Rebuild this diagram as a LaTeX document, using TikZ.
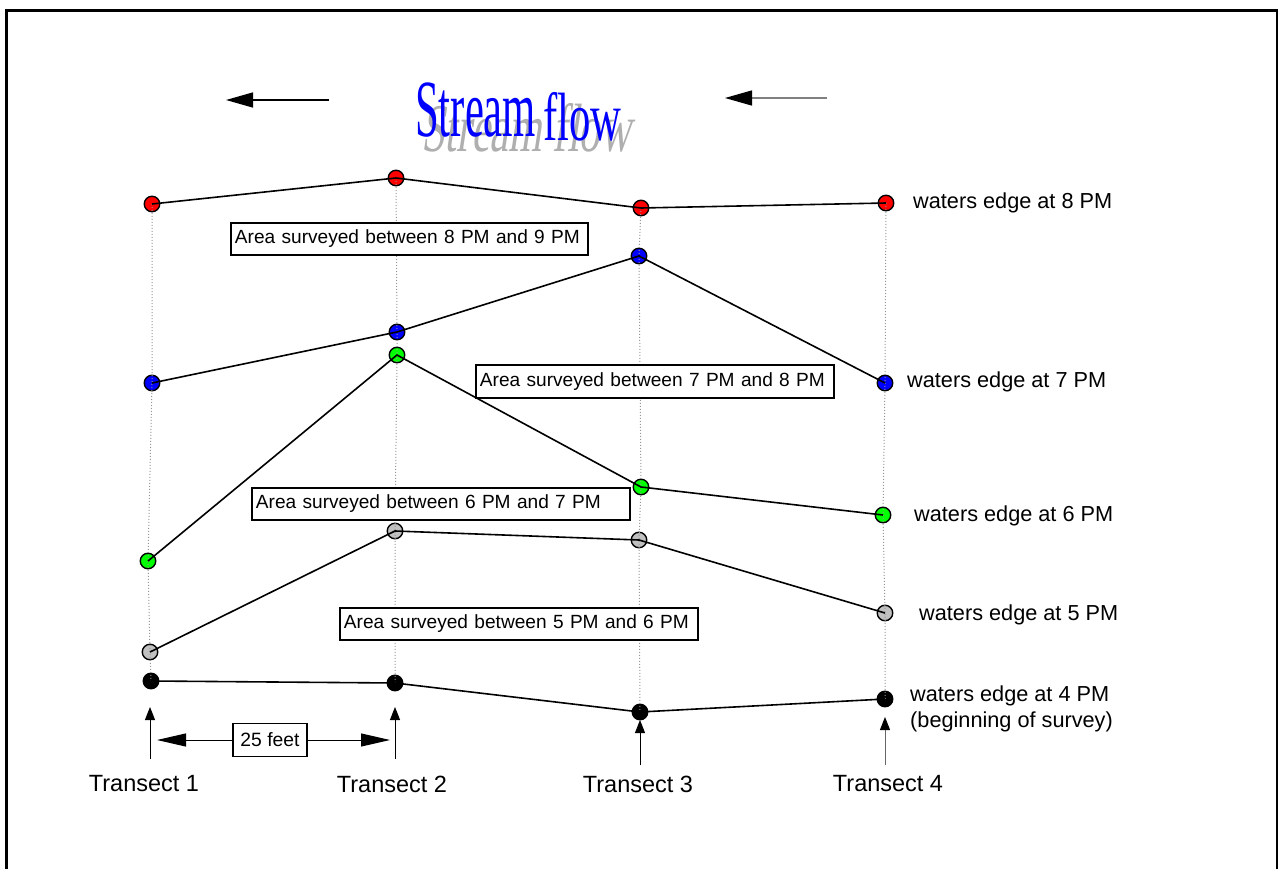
\documentclass[tikz,border=0pt]{standalone}
\usepackage{fontspec}
\setmainfont{Liberation Sans}
\newfontfamily\titlefont{Liberation Serif}
\usetikzlibrary{arrows.meta}
\definecolor{dotred}{RGB}{255,0,0}
\definecolor{dotblue}{RGB}{0,0,255}
\definecolor{dotgreen}{RGB}{0,255,0}
\definecolor{dotgray}{RGB}{192,192,192}
\definecolor{guidegray}{RGB}{150,150,150}
\definecolor{shadowgray}{RGB}{175,175,175}
\definecolor{titleblue}{RGB}{0,0,255}
\begin{document}
\begin{tikzpicture}[x=1pt,y=-1pt,
  dot/.style={circle,draw=black,line width=1.4pt,minimum size=15.5pt,inner sep=0pt},
  edge/.style={line width=1.6pt},
  guide/.style={draw=guidegray,line width=1pt,dash pattern=on 1pt off 2pt},
  areabox/.style={draw,line width=1.8pt,anchor=north west,inner xsep=4pt,inner ysep=0pt,align=left,font=\fontsize{19.1}{22}\selectfont},
  lbl/.style={anchor=west,inner sep=0pt,align=left,font=\fontsize{21.7}{26}\selectfont},
  tlabel/.style={inner sep=0pt,font=\fontsize{23.5}{28}\selectfont},
  uparrow/.style={-{Triangle[length=13pt,width=10pt,color=black]},line width=1pt},
  spanarrow/.style={-{Triangle[length=29pt,width=13pt]},line width=1pt},
  flowarrow/.style={-{Triangle[length=27pt,width=15pt,color=black]},line width=1.5pt},
]
\useasboundingbox (0,0) rectangle (1280,869);
\draw[line width=2.5pt] (6.5,869) -- (6.5,10.5) -- (1277,10.5) -- (1277,869);

% title
\node[anchor=base west,inner sep=0pt,text=shadowgray,xslant=0.15] (shadow) at (421,152)
  {\titlefont\fontsize{42.7}{44}\selectfont\scalebox{1}[1.6]{Stream flow}};
\node[anchor=base west,inner sep=0pt,text=titleblue] (title) at (415,137)
  {\titlefont\fontsize{42.7}{44}\selectfont\scalebox{1}[1.9]{Stream}\,\raisebox{-4pt}{\scalebox{1}[1.6]{flow}}};

% flow arrows
\coordinate (fl1s) at (329,100); \coordinate (fl1e) at (226,100);
\coordinate (fl2s) at (827,98);  \coordinate (fl2e) at (725,98);
\draw[flowarrow] (fl1s) -- (fl1e);
\draw[flowarrow,draw=gray] (fl2s) -- (fl2e);

% dots
\node[dot,fill=dotred] (r1) at (152,204) {};
\node[dot,fill=dotred] (r2) at (396,178) {};
\node[dot,fill=dotred] (r3) at (641,208) {};
\node[dot,fill=dotred] (r4) at (886,203) {};
\node[dot,fill=dotblue] (b1) at (152,383) {};
\node[dot,fill=dotblue] (b2) at (397,332) {};
\node[dot,fill=dotblue] (b3) at (639,256) {};
\node[dot,fill=dotblue] (b4) at (885,383) {};
\node[dot,fill=dotgreen] (g1) at (148,561) {};
\node[dot,fill=dotgreen] (g2) at (397,355) {};
\node[dot,fill=dotgreen] (g3) at (641,487) {};
\node[dot,fill=dotgreen] (g4) at (883,515) {};
\node[dot,fill=dotgray] (y1) at (150,652) {};
\node[dot,fill=dotgray] (y2) at (395,531) {};
\node[dot,fill=dotgray] (y3) at (639,540) {};
\node[dot,fill=dotgray] (y4) at (885,613) {};
\node[dot,fill=black] (k1) at (151,681) {};
\node[dot,fill=black] (k2) at (395,683) {};
\node[dot,fill=black] (k3) at (640,712) {};
\node[dot,fill=black] (k4) at (885,699) {};

% dotted transect guides
\foreach \i in {1,2,3,4}{
  \draw[guide] (r\i.center) -- (b\i.center) -- (g\i.center) -- (y\i.center) -- (k\i.center);
}
% water edge lines
\draw[edge] (r1.center) -- (r2.center) -- (r3.center) -- (r4.center);
\draw[edge] (b1.center) -- (b2.center) -- (b3.center) -- (b4.center);
\draw[edge] (g1.center) -- (g2.center) -- (g3.center) -- (g4.center);
\draw[edge] (y1.center) -- (y2.center) -- (y3.center) -- (y4.center);
\draw[edge] (k1.center) -- (k2.center) -- (k3.center) -- (k4.center);

% area boxes
\node[areabox,fill=white,text width=349pt,minimum height=32pt] (a89) at (230,222) {Area surveyed between 8 PM and 9 PM};
\node[areabox,fill=white,text width=350pt,minimum height=33pt] (a78) at (475,364) {Area surveyed between 7 PM and 8 PM};
\node[areabox,fill=white,text width=370pt,minimum height=32pt] (a67) at (251,487) {Area surveyed between 6 PM and 7 PM};
\node[areabox,fill=white,text width=350pt,minimum height=32pt] (a56) at (339,607) {Area surveyed between 5 PM and 6 PM};

% right labels
\node[lbl] (l8) at (913,203) {waters edge at 8 PM};
\node[lbl] (l7) at (907,382) {waters edge at 7 PM};
\node[lbl] (l6) at (914,516) {waters edge at 6 PM};
\node[lbl] (l5) at (919,615) {waters edge at 5 PM};
\node[lbl] (l4) at (910,709) {waters edge at 4 PM\\(beginning of survey)};

% transect arrows and labels
\coordinate (t1s) at (150,759); \coordinate (t1e) at (150,707);
\coordinate (t2s) at (395,759); \coordinate (t2e) at (395,707);
\coordinate (t3s) at (640,765); \coordinate (t3e) at (640,720);
\coordinate (t4s) at (885,765); \coordinate (t4e) at (885,717);
\draw[uparrow] (t1s) -- (t1e);
\draw[uparrow] (t2s) -- (t2e);
\draw[uparrow] (t3s) -- (t3e);
\draw[uparrow,draw=gray!80!black] (t4s) -- (t4e);
\node[tlabel] (T1) at (144,784) {Transect 1};
\node[tlabel] (T2) at (392,784) {Transect 2};
\node[tlabel] (T3) at (638,784) {Transect 3};
\node[tlabel] (T4) at (888,784) {Transect 4};

% 25 feet
\node[draw,line width=1.8pt,minimum width=74pt,minimum height=33pt,inner sep=0pt,font=\fontsize{19.3}{22}\selectfont] (ft) at (270,740) {25 feet};
\coordinate (ftl) at (157,740); \coordinate (ftr) at (390,740);
\draw[spanarrow] (ft.west) -- (ftl);
\draw[spanarrow] (ft.east) -- (ftr);
\end{tikzpicture}
\end{document}
